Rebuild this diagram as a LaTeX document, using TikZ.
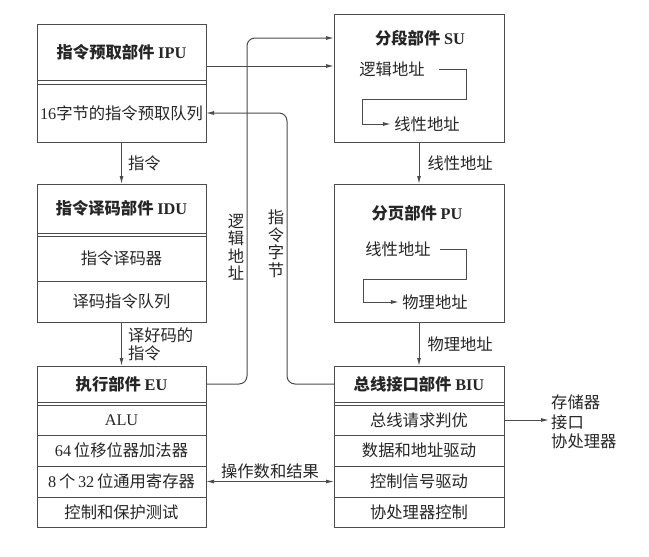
\documentclass[tikz,border=0pt]{standalone}
\usepackage{fontspec}
\setmainfont{Noto Sans CJK SC}
\newfontfamily\lat{Liberation Serif}
\usetikzlibrary{arrows.meta, positioning, fit}

\begin{document}
\begin{tikzpicture}[
  x=1pt, y=-1pt, >={Latex[length=8pt, width=4pt]},
  font=\fontsize{16.3}{18}\selectfont, text=black!85,
  head/.style={rectangle, draw=black!70, line width=1pt, minimum width=169pt,
               inner sep=0pt, outer sep=0pt, font=\fontsize{16.3}{18}\selectfont\bfseries},
  cell/.style={rectangle, draw=black!70, line width=1pt, minimum width=169pt,
               inner sep=0pt, outer sep=0pt},
  frame/.style={rectangle, draw=black!70, line width=1pt, inner sep=0pt, outer sep=0pt},
  ttl/.style={font=\fontsize{16.3}{18}\selectfont\bfseries},
  lbl/.style={font=\fontsize{16.3}{18}\selectfont, inner sep=2pt},
  vlbl/.style={font=\fontsize{16.3}{17.5}\selectfont, align=center, inner sep=1pt},
  ar/.style={->, draw=black!70, line width=1pt}]
  \useasboundingbox[fill=white] (0,0) rectangle (649,557);

  % instruction prefetch unit
  \node[head, minimum height=56pt] (iput) at (121.5,52) {指令预取部件~{\lat IPU}};
  \node[cell, minimum height=58pt, below=4pt of iput] (ipuq) {{\lat 16}字节的指令预取队列};
  \node[frame, fit=(iput)(ipuq)] (ipu) {};

  % instruction decode unit
  \node[head, minimum height=49pt] (idut) at (121.5,208.5) {指令译码部件~{\lat IDU}};
  \node[cell, minimum height=45pt, below=3pt of idut] (idud) {指令译码器};
  \node[cell, minimum height=41pt, below=0pt of idud] (iduq) {译码指令队列};
  \node[frame, fit=(idut)(iduq)] (idu) {};

  % execution unit
  \node[head, minimum height=36pt] (eut) at (121.5,384) {执行部件~{\lat EU}};
  \node[cell, minimum height=30pt, below=3pt of eut] (eur1) {{\lat ALU}};
  \node[cell, minimum height=31pt, below=0pt of eur1] (eur2) {{\lat 64}\,位移位器加法器};
  \node[cell, minimum height=31pt, below=0pt of eur2] (eur3) {{\lat 8}\,个\,{\lat 32}\,位通用寄存器};
  \node[cell, minimum height=30pt, below=0pt of eur3] (eur4) {控制和保护测试};
  \node[frame, fit=(eut)(eur4)] (eu) {};

  % bus interface unit
  \node[head, minimum width=170pt, minimum height=36pt] (biut) at (419,384) {总线接口部件~{\lat BIU}};
  \node[cell, minimum width=170pt, minimum height=30pt, below=3pt of biut] (biur1) {总线请求判优};
  \node[cell, minimum width=170pt, minimum height=31pt, below=0pt of biur1] (biur2) {数据和地址驱动};
  \node[cell, minimum width=170pt, minimum height=31pt, below=0pt of biur2] (biur3) {控制信号驱动};
  \node[cell, minimum width=170pt, minimum height=30pt, below=0pt of biur3] (biur4) {协处理器控制};
  \node[frame, fit=(biut)(biur4)] (biu) {};

  % segment unit
  \node[frame, minimum width=170pt, minimum height=128pt] (su) at (419,78) {};
  \node[ttl] (sut) at (420,38) {分段部件~{\lat SU}};
  \node (sulog) at (392,69) {逻辑地址};
  \node (sulin) at (427,124) {线性地址};
  \draw[ar] ([xshift=11pt]sulog.east) -- ++(27,0) |- ++(-104,30) |- (sulin.west);

  % paging unit
  \node[frame, minimum width=170pt, minimum height=138pt] (pu) at (419,253) {};
  \node[ttl] (put) at (417,213) {分页部件~{\lat PU}};
  \node (pulin) at (398,249) {线性地址};
  \node (puphy) at (435,302) {物理地址};
  \draw[ar] ([xshift=6pt]pulin.east) -- ++(26,0) |- ++(-103,30) |- (puphy.west);

  \draw[ar] (ipuq) -- node[lbl, right=4pt] {指令} (idut);
  \draw[ar] (iduq) -- node[lbl, right=4pt, align=left] {译好码的\\指令} (eut);
  \draw[ar] (su) -- node[lbl, right=6pt] {线性地址} (pu);
  \draw[ar] (pu) -- node[lbl, right=6pt] {物理地址} (biut);
  \draw[ar] ([yshift=-14pt]iput.east) -- ([yshift=-14pt]iput.east -| su.west);
  \draw[ar, rounded corners=8pt] (eut.east) -- ++(41,0) |- (sut -| su.west);
  \draw[ar, rounded corners=8pt] (biut.west) -- ++(-47,0) |- (ipuq.east);
  \draw[ar, <->] (eur3) -- node[lbl, above] {操作数和结果} (biur3);
  \node[vlbl] (lgc) at (236,247) {逻\\辑\\地\\址};
  \node[vlbl] (byt) at (276,244) {指\\令\\字\\节};

  \node[lbl, align=left, anchor=west, font=\fontsize{16.3}{19.5}\selectfont] (mem) at (549,422)
      {存储器\\接口\\协处理器};
  \draw[ar] (biur1.east) -- (biur1.east -| mem.west);
\end{tikzpicture}
\end{document}
